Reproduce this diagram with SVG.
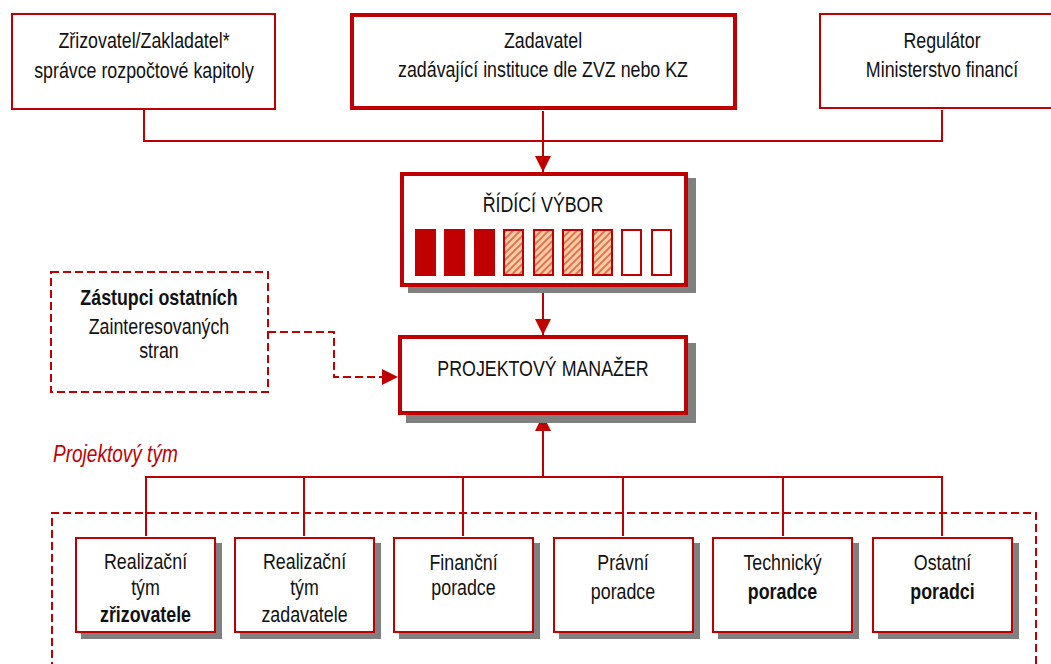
<svg xmlns="http://www.w3.org/2000/svg" width="1051" height="664" viewBox="0 0 1051 664">
  <defs>
    <style>
      /* condensed sans: regular sans squeezed horizontally around each line's centre */
      text { font-family: "Liberation Sans", Arial, sans-serif; font-size: 22px; fill: #111; text-anchor: middle;
             transform-box: fill-box; transform-origin: center; transform: scaleX(0.81); }
      .b { font-weight: bold; }
      .cap { font-style: italic; fill: #c00000; text-anchor: start; font-size: 23.5px; transform-origin: left center; }
      .box { fill: #fff; stroke: #c00000; stroke-width: 2; }
      .box-strong { fill: #fff; stroke: #c00000; stroke-width: 4; }
      .dash-box { fill: #fff; stroke: #c00000; stroke-width: 2; stroke-dasharray: 8 4; }
      .shadow { fill: #808080; }
      .line { fill: none; stroke: #c00000; stroke-width: 2; }
      .dashed { fill: none; stroke: #c00000; stroke-width: 2; stroke-dasharray: 8 4; }
      .seat-full { fill: #c00000; stroke: #c00000; stroke-width: 2; }
      .seat-half { fill: url(#hatch); stroke: #c00000; stroke-width: 2; }
      .seat-empty { fill: #fff; stroke: #c00000; stroke-width: 2; }
    </style>
    <marker id="arrow" markerUnits="userSpaceOnUse" markerWidth="16" markerHeight="16" refX="16" refY="8" orient="auto">
      <path d="M0,0 L16,8 L0,16 z" fill="#c00000"/>
    </marker>
    <pattern id="hatch" patternUnits="userSpaceOnUse" width="5" height="5" patternTransform="rotate(45)">
      <rect width="5" height="5" fill="#fcd0a0"/>
      <rect width="2" height="5" fill="#e4705a"/>
    </pattern>
  </defs>

  <!-- connectors -->
  <g id="connectors">
    <path class="line" d="M144,110 V141 H942 V110"/>
    <path class="line" d="M543,111 V172" marker-end="url(#arrow)"/>
    <path class="line" d="M543,288 V335" marker-end="url(#arrow)"/>
    <path class="dashed" d="M268,332 H334 V377 H392"/>
    <path d="M382,369 L398,377 L382,385 z" fill="#c00000"/>
    <path class="line" d="M543,477 V415" marker-end="url(#arrow)"/>
    <path class="line" d="M146,536 V477 H942 V536 M304,477 V536 M463,477 V536 M623,477 V536 M783,477 V536"/>
    <path class="dashed" d="M52,670 V513 H1036 V670"/>
  </g>

  <!-- top row -->
  <g id="zrizovatel">
    <rect class="box" x="12" y="14" width="263" height="95"/>
    <text x="144" y="48">Zřizovatel/Zakladatel*</text>
    <text x="144" y="78">správce rozpočtové kapitoly</text>
  </g>
  <g id="zadavatel">
    <rect class="box-strong" x="352" y="15" width="383" height="93"/>
    <text x="543" y="48">Zadavatel</text>
    <text x="543" y="77">zadávající instituce dle ZVZ nebo KZ</text>
  </g>
  <g id="regulator">
    <rect class="box" x="820" y="14" width="246" height="94"/>
    <text x="942" y="48">Regulátor</text>
    <text x="942" y="77">Ministerstvo financí</text>
  </g>

  <!-- steering committee -->
  <g id="ridici-vybor">
    <rect class="shadow" x="408" y="178" width="288" height="115"/>
    <rect class="box-strong" x="402" y="174" width="284" height="111"/>
    <text x="543" y="212">ŘÍDÍCÍ VÝBOR</text>
    <rect class="seat-full" x="416" y="230" width="19" height="45"/>
    <rect class="seat-full" x="445" y="230" width="19" height="45"/>
    <rect class="seat-full" x="475" y="230" width="19" height="45"/>
    <rect class="seat-half" x="504" y="230" width="19" height="45"/>
    <rect class="seat-half" x="534" y="230" width="19" height="45"/>
    <rect class="seat-half" x="563" y="230" width="19" height="45"/>
    <rect class="seat-half" x="593" y="230" width="19" height="45"/>
    <rect class="seat-empty" x="622" y="230" width="19" height="45"/>
    <rect class="seat-empty" x="652" y="230" width="19" height="45"/>
  </g>

  <!-- stakeholders -->
  <g id="zastupci">
    <rect class="dash-box" x="51" y="272" width="217" height="120"/>
    <text class="b" x="159" y="305">Zástupci ostatních</text>
    <text x="159" y="334">Zainteresovaných</text>
    <text x="159" y="358">stran</text>
  </g>

  <!-- project manager -->
  <g id="projektovy-manazer">
    <rect class="shadow" x="406" y="343" width="290" height="80"/>
    <rect class="box-strong" x="400" y="337" width="286" height="76"/>
    <text x="543" y="376">PROJEKTOVÝ MANAŽER</text>
  </g>

  <text class="cap" x="53" y="462">Projektový tým</text>

  <!-- project team -->
  <g id="realizacni-zrizovatele">
    <rect class="shadow" x="81" y="543" width="141" height="96"/>
    <rect class="box" x="76" y="538" width="139" height="94"/>
    <text x="145.5" y="569">Realizační</text>
    <text x="145.5" y="595">tým</text>
    <text class="b" x="145.5" y="622">zřizovatele</text>
  </g>
  <g id="realizacni-zadavatele">
    <rect class="shadow" x="240" y="543" width="141" height="96"/>
    <rect class="box" x="235" y="538" width="139" height="94"/>
    <text x="304.5" y="569">Realizační</text>
    <text x="304.5" y="595">tým</text>
    <text x="304.5" y="622">zadavatele</text>
  </g>
  <g id="financni-poradce">
    <rect class="shadow" x="399" y="543" width="141" height="96"/>
    <rect class="box" x="394" y="538" width="139" height="94"/>
    <text x="463.5" y="570">Finanční</text>
    <text x="463.5" y="595">poradce</text>
  </g>
  <g id="pravni-poradce">
    <rect class="shadow" x="559" y="543" width="141" height="96"/>
    <rect class="box" x="554" y="538" width="139" height="94"/>
    <text x="623" y="570">Právní</text>
    <text x="623" y="599">poradce</text>
  </g>
  <g id="technicky-poradce">
    <rect class="shadow" x="718" y="543" width="141" height="96"/>
    <rect class="box" x="713" y="538" width="139" height="94"/>
    <text x="782.5" y="570">Technický</text>
    <text class="b" x="782.5" y="599">poradce</text>
  </g>
  <g id="ostatni-poradci">
    <rect class="shadow" x="878" y="543" width="141" height="96"/>
    <rect class="box" x="873" y="538" width="139" height="94"/>
    <text x="942.5" y="570">Ostatní</text>
    <text class="b" x="942.5" y="599">poradci</text>
  </g>
</svg>
